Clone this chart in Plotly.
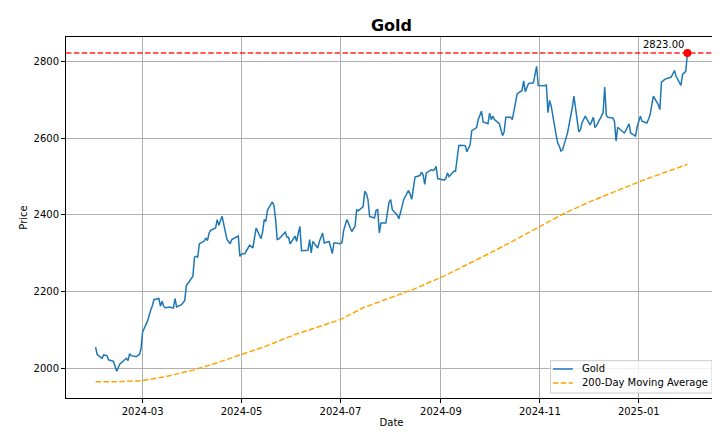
import pandas as pd
import plotly.graph_objects as go

# trading calendar (US market holidays inside the window)
start_date = "2024-02-01"
end_date = "2025-01-31"
holidays = [
    "2024-02-19", "2024-03-29", "2024-05-27", "2024-06-19", "2024-07-04",
    "2024-09-02", "2024-11-28", "2024-12-25", "2025-01-01", "2025-01-09",
    "2025-01-20",
]

# daily close (Feb 2024 .. Jan 2025)
gold_close = [
    # Feb
    2055, 2036, 2026, 2035, 2034, 2033, 2022, 2018, 2005, 1992,
    2002, 2011, 2026, 2020, 2038, 2033, 2030, 2034, 2036, 2050,
    # Mar
    2095, 2123, 2141, 2152, 2163, 2179, 2182, 2162, 2175, 2162,
    2158, 2160, 2158, 2157, 2182, 2160, 2166, 2173, 2177, 2216,
    # Apr
    2240, 2290, 2292, 2290, 2325, 2332, 2340, 2333, 2353, 2360, 2366,
    2388, 2373, 2385, 2397, 2336, 2330, 2325, 2336, 2338, 2345, 2292,
    # May
    2298, 2299, 2299, 2321, 2316, 2314, 2340, 2366, 2338, 2355, 2388,
    2383, 2413, 2434, 2425, 2390, 2336, 2337, 2355, 2342, 2342, 2325,
    # Jun
    2345, 2331, 2352, 2370, 2307, 2307, 2308, 2336, 2301, 2331,
    2314, 2330, 2353, 2327, 2331, 2316, 2299, 2327, 2327,
    # Jul
    2325, 2328, 2360, 2388, 2357, 2363, 2370, 2413, 2411, 2422, 2462,
    2455, 2440, 2396, 2392, 2412, 2414, 2353, 2379, 2379, 2411, 2434,
    # Aug
    2440, 2414, 2400, 2390, 2405, 2423, 2440, 2464, 2455, 2441, 2470,
    2499, 2503, 2512, 2505, 2480, 2510, 2518, 2516, 2518, 2527, 2495,
    # Sep
    2491, 2495, 2510, 2500, 2514, 2514, 2548, 2581, 2582, 2581,
    2565, 2575, 2584, 2620, 2628, 2649, 2660, 2671, 2643, 2638,
    # Oct
    2666, 2649, 2658, 2649, 2638, 2620, 2607, 2618, 2655, 2655, 2649, 2671,
    2690, 2716, 2725, 2750, 2722, 2735, 2743, 2745, 2765, 2788, 2738,
    # Nov
    2738, 2737, 2740, 2667, 2699, 2684, 2610, 2588, 2580, 2567,
    2570, 2613, 2635, 2655, 2680, 2710, 2617, 2622, 2641, 2658,
    # Dec
    2635, 2645, 2655, 2628, 2634, 2658, 2667, 2734, 2660, 2655, 2653,
    2645, 2593, 2629, 2625, 2614, 2620, 2638, 2614, 2606, 2630,
    # Jan
    2658, 2645, 2640, 2650, 2662, 2710, 2688, 2675, 2747, 2750,
    2754, 2760, 2771, 2777, 2762, 2738, 2767, 2771, 2775, 2823,
]

# 200-day moving average, sampled about twice a month
ma_dates = [
    "2024-02-01", "2024-02-15", "2024-03-01", "2024-03-15", "2024-04-01",
    "2024-04-15", "2024-05-01", "2024-05-15", "2024-06-03", "2024-06-14",
    "2024-07-01", "2024-07-15", "2024-08-01", "2024-08-15", "2024-09-03",
    "2024-09-16", "2024-10-01", "2024-10-15", "2024-11-01", "2024-11-15",
    "2024-12-02", "2024-12-16", "2025-01-02", "2025-01-15", "2025-01-31",
]
ma_200 = [
    1965, 1965, 1968, 1978, 1995,
    2013, 2036, 2056, 2088, 2104,
    2127, 2158, 2185, 2206, 2241,
    2268, 2300, 2331, 2371, 2402,
    2435, 2459, 2488, 2508, 2532,
]

series_names = ["Gold", "200-Day Moving Average"]
series_colors = ["#1f77b4", "orange"]
series_dash = ["solid", "5.5px,2.4px"]

dates = pd.bdate_range(start_date, end_date)
dates = dates[~dates.isin(pd.to_datetime(holidays))]
assert len(dates) == len(gold_close)

last_date = dates[-1]
last_price = gold_close[-1]

font_family = "DejaVu Sans"

fig = go.Figure()

# red dashed line at the latest price
fig.add_hline(y=last_price, line=dict(color="rgba(255,0,0,0.85)", width=1.5, dash="5.5px,2.4px"))

fig.add_trace(go.Scatter(
    x=dates, y=gold_close, mode="lines", name=series_names[0],
    line=dict(color=series_colors[0], width=1.5, dash=series_dash[0]),
))
fig.add_trace(go.Scatter(
    x=pd.to_datetime(ma_dates), y=ma_200, mode="lines", name=series_names[1],
    line=dict(color=series_colors[1], width=1.5, dash=series_dash[1]),
))
fig.add_trace(go.Scatter(
    x=[last_date], y=[last_price], mode="markers",
    marker=dict(color="red", size=8),
))

fig.add_annotation(
    x=last_date, y=last_price, text=f"{last_price:.2f}",
    showarrow=False, xanchor="right", yanchor="bottom", xshift=-1, yshift=1,
    font=dict(family=font_family, size=10, color="#000000"),
)

# matplotlib-style legend box, lower right
fig.add_shape(
    type="rect", xref="paper", yref="paper",
    x0=0.7443, x1=0.9923, y0=0.0139, y1=0.1034,
    line=dict(color="#cccccc", width=1), fillcolor="rgba(255,255,255,0.8)",
    layer="above",
)
for i, (name, color, dash) in enumerate(zip(series_names, series_colors, series_dash)):
    y_leg = 0.0804 - i * 0.0388
    fig.add_shape(
        type="line", xref="paper", yref="paper",
        x0=0.7479, x1=0.7786, y0=y_leg, y1=y_leg,
        line=dict(color=color, width=1.5, dash=dash), layer="above",
    )
    fig.add_annotation(
        xref="paper", yref="paper", x=0.7905, y=y_leg, text=name,
        showarrow=False, xanchor="left", yanchor="middle", borderpad=0,
        font=dict(family=font_family, size=10, color="#000000"),
    )

axis_common = dict(
    showline=True, mirror=True, linecolor="#000000", linewidth=1,
    showgrid=True, gridcolor="#b0b0b0", gridwidth=0.8,
    ticks="outside", ticklen=4, tickcolor="#000000", tickwidth=1,
    zeroline=False, automargin=False,
    tickfont=dict(family=font_family, size=10, color="#000000"),
)

fig.update_layout(
    width=720, height=432,
    margin=dict(l=58, r=11, t=29, b=42),
    paper_bgcolor="white", plot_bgcolor="white",
    font=dict(family=font_family, size=10, color="#000000"),
    title=dict(
        text="<b>Gold</b>", x=0.5, xref="paper", y=1 - 17 / 432, yref="container",
        xanchor="center", yanchor="middle",
        font=dict(family=font_family, size=16, color="#000000"),
    ),
    xaxis=dict(
        axis_common,
        range=["2024-01-13 18:00", "2025-02-18 06:00"],
        tick0="2024-01-01", dtick="M2", tickformat="%Y-%m",
        title=dict(text="Date", standoff=2, font=dict(family=font_family, size=10)),
    ),
    yaxis=dict(
        axis_common,
        range=[1922.4, 2864.5],
        tick0=2000, dtick=200,
        title=dict(text="Price", standoff=4, font=dict(family=font_family, size=10)),
    ),
    showlegend=False,
)

fig.write_html("out.html")
